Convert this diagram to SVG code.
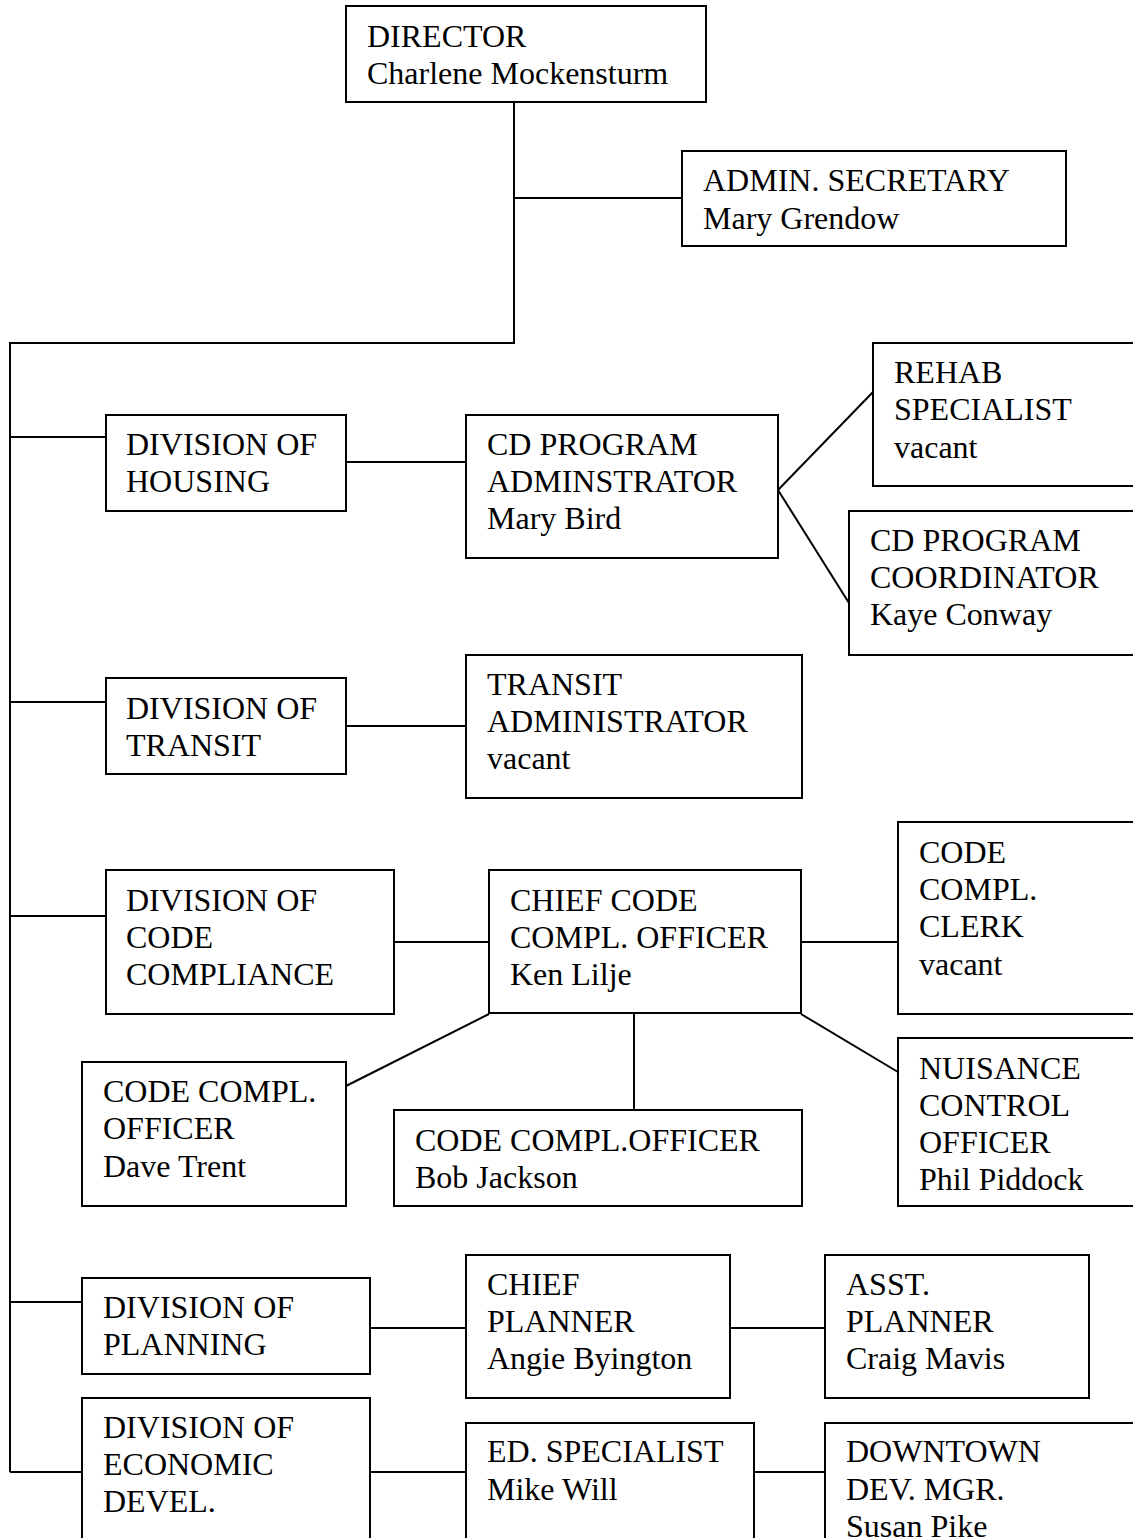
<svg xmlns="http://www.w3.org/2000/svg" width="1133" height="1538" viewBox="0 0 1133 1538">
<style>
.box{fill:#fff;stroke:#000;stroke-width:2}
.ln{fill:none;stroke:#000;stroke-width:2}
text{font-family:"Liberation Serif","Times New Roman",serif;font-size:32px;fill:#000}
</style>
<rect width="1133" height="1538" fill="#fff"/>
<g id="connectors">
<path class="ln" d="M514 102V343H10V1472"/>
<path class="ln" d="M514 198H682"/>
<path class="ln" d="M10 437H106M346 462H466"/>
<path class="ln" d="M778 490L873 392M778 490L849 603"/>
<path class="ln" d="M10 702H106M346 726H466"/>
<path class="ln" d="M10 916H106M394 942H489M801 942H898"/>
<path class="ln" d="M489 1014L346 1086M634 1014V1110M801 1014L898 1072"/>
<path class="ln" d="M10 1302H82M370 1328H466M730 1328H825"/>
<path class="ln" d="M10 1472H82M370 1472H466M754 1472H825"/>
</g>
<g id="director"><rect class="box" x="346" y="6" width="360" height="96"/><text x="367" y="47">DIRECTOR</text><text x="367" y="84">Charlene Mockensturm</text></g>
<g id="admin"><rect class="box" x="682" y="151" width="384" height="95"/><text x="703" y="191">ADMIN. SECRETARY</text><text x="703" y="229">Mary Grendow</text></g>
<g id="housing"><rect class="box" x="106" y="415" width="240" height="96"/><text x="126" y="455">DIVISION OF</text><text x="126" y="492">HOUSING</text></g>
<g id="cdadmin"><rect class="box" x="466" y="415" width="312" height="143"/><text x="487" y="455">CD PROGRAM</text><text x="487" y="492">ADMINSTRATOR</text><text x="487" y="529">Mary Bird</text></g>
<g id="rehab"><rect class="box" x="873" y="343" width="270" height="143"/><text x="894" y="383">REHAB</text><text x="894" y="420">SPECIALIST</text><text x="894" y="458">vacant</text></g>
<g id="cdcoord"><rect class="box" x="849" y="511" width="294" height="144"/><text x="870" y="551">CD PROGRAM</text><text x="870" y="588">COORDINATOR</text><text x="870" y="625">Kaye Conway</text></g>
<g id="transit"><rect class="box" x="106" y="678" width="240" height="96"/><text x="126" y="719">DIVISION OF</text><text x="126" y="756">TRANSIT</text></g>
<g id="transitadmin"><rect class="box" x="466" y="655" width="336" height="143"/><text x="487" y="695">TRANSIT</text><text x="487" y="732">ADMINISTRATOR</text><text x="487" y="769">vacant</text></g>
<g id="codediv"><rect class="box" x="106" y="870" width="288" height="144"/><text x="126" y="911">DIVISION OF</text><text x="126" y="948">CODE</text><text x="126" y="985">COMPLIANCE</text></g>
<g id="chiefcode"><rect class="box" x="489" y="870" width="312" height="143"/><text x="510" y="911">CHIEF CODE</text><text x="510" y="948">COMPL. OFFICER</text><text x="510" y="985">Ken Lilje</text></g>
<g id="clerk"><rect class="box" x="898" y="822" width="245" height="192"/><text x="919" y="863">CODE</text><text x="919" y="900">COMPL.</text><text x="919" y="937">CLERK</text><text x="919" y="975">vacant</text></g>
<g id="dave"><rect class="box" x="82" y="1062" width="264" height="144"/><text x="103" y="1102">CODE COMPL.</text><text x="103" y="1139">OFFICER</text><text x="103" y="1177">Dave Trent</text></g>
<g id="bob"><rect class="box" x="394" y="1110" width="408" height="96"/><text x="415" y="1151">CODE COMPL.OFFICER</text><text x="415" y="1188">Bob Jackson</text></g>
<g id="nuisance"><rect class="box" x="898" y="1038" width="245" height="168"/><text x="919" y="1079">NUISANCE</text><text x="919" y="1116">CONTROL</text><text x="919" y="1153">OFFICER</text><text x="919" y="1190">Phil Piddock</text></g>
<g id="planning"><rect class="box" x="82" y="1278" width="288" height="96"/><text x="103" y="1318">DIVISION OF</text><text x="103" y="1355">PLANNING</text></g>
<g id="chiefplanner"><rect class="box" x="466" y="1255" width="264" height="143"/><text x="487" y="1295">CHIEF</text><text x="487" y="1332">PLANNER</text><text x="487" y="1369">Angie Byington</text></g>
<g id="asstplanner"><rect class="box" x="825" y="1255" width="264" height="143"/><text x="846" y="1295">ASST.</text><text x="846" y="1332">PLANNER</text><text x="846" y="1369">Craig Mavis</text></g>
<g id="econ"><rect class="box" x="82" y="1398" width="288" height="160"/><text x="103" y="1438">DIVISION OF</text><text x="103" y="1475">ECONOMIC</text><text x="103" y="1512">DEVEL.</text></g>
<g id="edspec"><rect class="box" x="466" y="1423" width="288" height="135"/><text x="487" y="1462">ED. SPECIALIST</text><text x="487" y="1500">Mike Will</text></g>
<g id="downtown"><rect class="box" x="825" y="1423" width="318" height="135"/><text x="846" y="1462">DOWNTOWN</text><text x="846" y="1500">DEV. MGR.</text><text x="846" y="1537">Susan Pike</text></g>
</svg>
